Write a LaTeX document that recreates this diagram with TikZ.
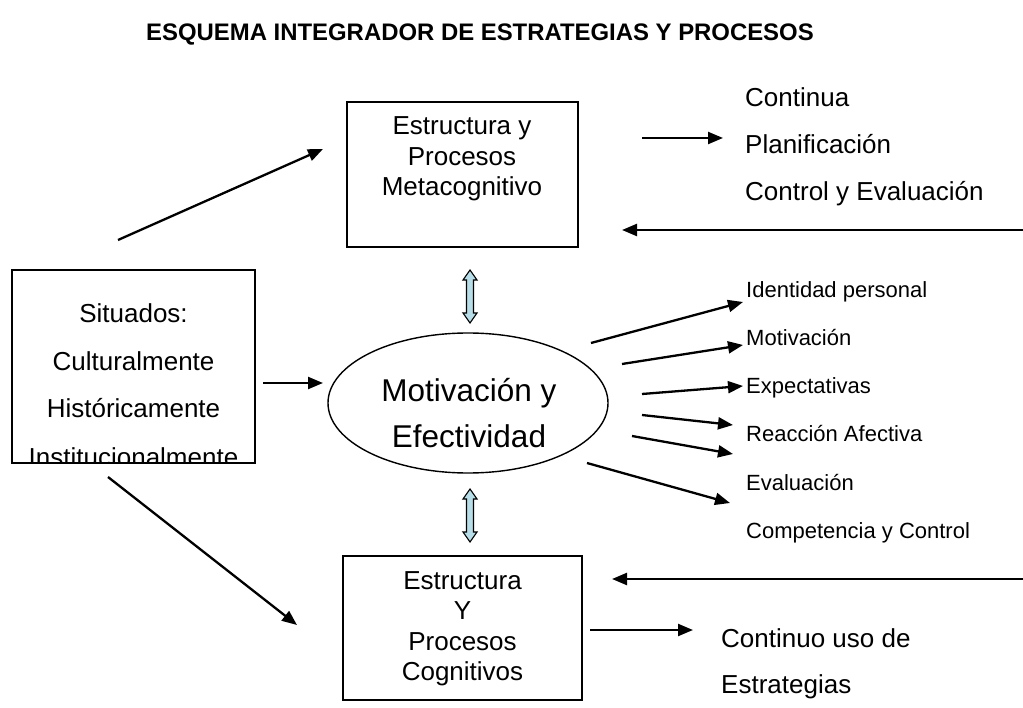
\documentclass[tikz,border=0pt]{standalone}
\usepackage{fontspec}
\setmainfont{Liberation Sans}
\usetikzlibrary{arrows.meta,shapes.geometric}
\definecolor{Aqua}{HTML}{B7DEE8}

% flecha doble vertical: x, y arriba, y abajo
\newcommand{\updown}[3]{%
  \filldraw[fill=Aqua, line width=1.1] (#1,#2) -- ++(7,10) -- ++(-3.5,0) -- (#1+3.5,#3-10) -- ++(3.5,0)
    -- (#1,#3) -- ++(-7,-10) -- ++(3.5,0) -- (#1-3.5,#2+10) -- ++(-3.5,0) -- cycle;}

\begin{document}
\begin{tikzpicture}[x=1pt, y=-1pt,
  caja/.style={draw, line width=1.4, inner sep=0pt},
  texto/.style={font=\fontsize{26}{31}\selectfont, anchor=base, inner sep=0pt},
  etiqueta/.style={font=\fontsize{22}{26}\selectfont, anchor=base west, inner sep=0pt},
  grande/.style={font=\fontsize{31.5}{37}\selectfont, anchor=base, inner sep=0pt},
  flecha/.style={-{Triangle[length=15pt,width=12pt]}, line width=2.3}]

 \useasboundingbox (0,0) rectangle (1023,708);

 %%%%%%%%%% Titulo %%%%%%%%%%
 \node[font=\fontsize{23.9}{28}\selectfont\bfseries, anchor=base, inner sep=0pt] (titulo) at (480,41)
   {ESQUEMA INTEGRADOR DE ESTRATEGIAS Y PROCESOS};

 %%%%%%%%%% Cajas %%%%%%%%%%
 \node[caja, minimum width=231, minimum height=145] (meta) at (462.5,174.5) {};
 \node[caja, minimum width=243, minimum height=193] (sit) at (133.5,366.5) {};
 \node[caja, minimum width=239, minimum height=144] (cog) at (462.5,628) {};
 \node[caja, ellipse, minimum width=280, minimum height=140] (mot) at (468,403) {};

 % Textos de las cajas
 \node[texto] (meta1) at (462,135) {Estructura y};
 \node[texto] (meta2) at (462,166) {Procesos};
 \node[texto] (meta3) at (462,196) {Metacognitivo};

 \node[texto] (sit1) at (133.5,323) {Situados:};
 \node[texto] (sit2) at (133.5,371) {Culturalmente};
 \node[texto] (sit3) at (133.5,418) {Históricamente};
 \begin{scope}
  \clip (sit.south west) rectangle (sit.north east);
  \node[texto] (sit4) at (133.5,466) {Institucionalmente};
 \end{scope}

 \node[grande] (mot1) at (469,402) {Motivación y};
 \node[grande] (mot2) at (469,448) {Efectividad};

 \node[texto] (cog1) at (462.5,589) {Estructura};
 \node[texto] (cog2) at (462.5,619) {Y};
 \node[texto] (cog3) at (462.5,650) {Procesos};
 \node[texto] (cog4) at (462.5,680) {Cognitivos};

 %%%%%%%%%% Textos a la derecha %%%%%%%%%%
 \node[texto, anchor=base west] (cont1) at (745,107) {Continua};
 \node[texto, anchor=base west] (cont2) at (745,154) {Planificación};
 \node[texto, anchor=base west] (cont3) at (745,201) {Control y Evaluación};

 \node[etiqueta] (e1) at (746,298) {Identidad personal};
 \node[etiqueta] (e2) at (746,346) {Motivación};
 \node[etiqueta] (e3) at (746,394) {Expectativas};
 \node[etiqueta] (e4) at (746,442) {Reacción Afectiva};
 \node[etiqueta] (e5) at (746,490) {Evaluación};
 \node[etiqueta] (e6) at (746,538) {Competencia y Control};

 \node[texto, anchor=base west] (uso1) at (721,647) {Continuo uso de};
 \node[texto, anchor=base west] (uso2) at (721,693) {Estrategias};

 %%%%%%%%%% Puntos de las flechas %%%%%%%%%%
 \coordinate (a0) at (118,240);  \coordinate (a1) at (323,149);
 \coordinate (b0) at (263,383);  \coordinate (b1) at (323,383);
 \coordinate (c0) at (108,477);  \coordinate (c1) at (297,625);
 \coordinate (d0) at (642,138);  \coordinate (d1) at (723,138);
 \coordinate (r0) at (1023,230); \coordinate (r1) at (622,230);
 \coordinate (s0) at (1023,579); \coordinate (s1) at (612,579);
 \coordinate (u0) at (590,630);  \coordinate (u1) at (693,630);

 \coordinate (f1) at (591,343); \coordinate (g1) at (743,302);
 \coordinate (f2) at (622,364); \coordinate (g2) at (743,345);
 \coordinate (f3) at (642,394); \coordinate (g3) at (743,386);
 \coordinate (f4) at (642,415); \coordinate (g4) at (733,425);
 \coordinate (f5) at (632,436); \coordinate (g5) at (733,454);
 \coordinate (f6) at (587,463); \coordinate (g6) at (730,503);

 %%%%%%%%%% Flechas %%%%%%%%%%
 \draw[flecha] (a0) -- (a1);
 \draw[flecha] (b0) -- (b1);
 \draw[flecha] (c0) -- (c1);
 \draw[flecha] (d0) -- (d1);
 \draw[flecha] (r0) -- (r1);
 \draw[flecha] (s0) -- (s1);
 \draw[flecha] (u0) -- (u1);

 \draw[flecha] (f1) -- (g1);
 \draw[flecha] (f2) -- (g2);
 \draw[flecha] (f3) -- (g3);
 \draw[flecha] (f4) -- (g4);
 \draw[flecha] (f5) -- (g5);
 \draw[flecha] (f6) -- (g6);

 % Flechas dobles
 \updown{470}{270}{323}
 \updown{470}{489}{542}

\end{tikzpicture}
\end{document}
